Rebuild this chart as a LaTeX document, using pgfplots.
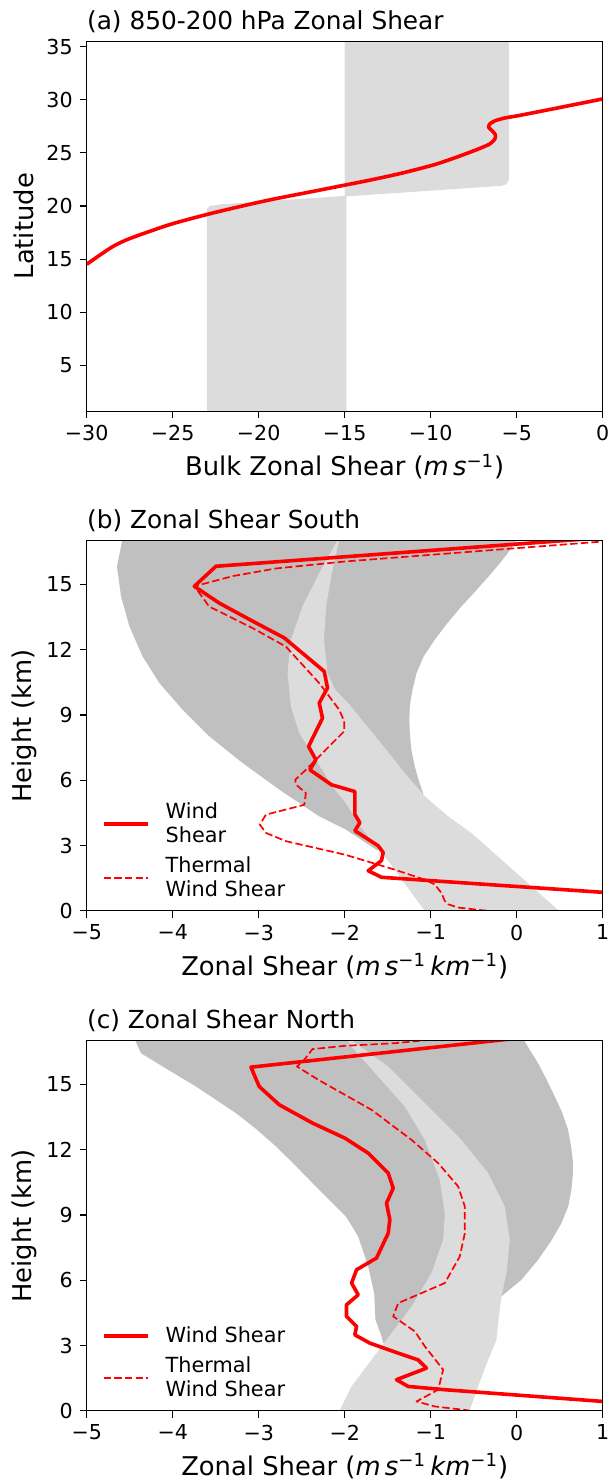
\documentclass[border=0pt]{standalone}
\usepackage{fontspec}
\setmainfont{DejaVu Sans}
\usepackage{pgfplots}
\pgfplotsset{compat=1.18}
\definecolor{lightband}{HTML}{DCDCDC}
\definecolor{darkband}{HTML}{C0C0C0}

\pgfplotsset{
  panel/.style={
    scale only axis, width=258pt, height=185pt,
    anchor=south west,
    axis on top,
    axis line style={line width=0.65pt},
    every tick/.style={black, line width=0.65pt},
    tick align=outside, major tick length=3.5pt,
    xtick pos=bottom, ytick pos=left,
    tick label style={font=\fontsize{10.3}{12}\selectfont},
    label style={font=\fontsize{12.9}{15}\selectfont},
    title style={at={(axis description cs:0,1)}, anchor=base west,
      inner sep=0pt, font=\fontsize{12.4}{14}\selectfont},
    xlabel style={at={(axis description cs:0.5,0)}, anchor=base,
      yshift=-32.25pt, inner sep=0pt},
    ylabel style={at={(axis description cs:-0.1214,0.5)}, anchor=center},
  },
  shearpanel/.style={
    panel,
    xmin=-5, xmax=1, ymin=0, ymax=17,
    xtick={-5,-4,-3,-2,-1,0,1},
    xticklabels={−5,−4,−3,−2,−1,0,1},
    ytick={0,3,6,9,12,15},
    yticklabels={0,3,6,9,12,15},
    xlabel={Zonal Shear (\textit{m\,s}\textsuperscript{−1}\,\textit{km}\textsuperscript{−1})},
    ylabel={Height (km)},
    legend style={at={(axis description cs:0,0)}, anchor=south west,
      xshift=7.5pt, yshift=3.7pt, draw=none, fill=none, inner sep=0pt,
      row sep=1.9pt, column sep=5.8pt,
      font=\fontsize{10.4}{11.65}\selectfont,
      cells={align=left, anchor=west, inner sep=0pt}},
    legend image code/.code={\draw[##1] (0pt,0pt) -- (22.2pt,0pt);},
  },
  windshear/.style={red, line width=1.8pt, line join=round},
  thermal/.style={red, line width=0.85pt, dash pattern=on 3.7pt off 1.6pt, line join=round},
}

\begin{document}
\begin{tikzpicture}
\useasboundingbox (0pt,0pt) rectangle (304.5pt,-740pt);

% (a) bulk shear vs latitude
\begin{axis}[panel, at={(43.35pt,-205.6pt)},
    xmin=-30, xmax=0, ymin=0.7, ymax=35.5,
    xtick={-30,-25,-20,-15,-10,-5,0},
    xticklabels={−30,−25,−20,−15,−10,−5,0},
    ytick={5,10,15,20,25,30,35},
    yticklabels={5,10,15,20,25,30,35},
    title={(a) 850-200 hPa Zonal Shear},
    xlabel={Bulk Zonal Shear (\textit{m\,s}\textsuperscript{−1})},
    ylabel={Latitude}]
\addplot[fill=lightband, draw=none, forget plot] coordinates {
  (-23.02,0) (-23.02,19.70) (-22.84,20.01) (-22.16,20.17) (-14.9,20.96) (-14.9,0)
} -- cycle;
\addplot[fill=lightband, draw=none, forget plot] coordinates {
  (-15.0,36) (-15.0,20.89) (-5.88,21.9) (-5.6,22.05) (-5.45,22.5) (-5.45,36)
} -- cycle;
\addplot[windshear, smooth, tension=0.4] coordinates {
  (-30,14.52) (-29.22,15.40) (-28.43,16.24) (-27.45,16.97) (-25.1,18.29)
  (-22.55,19.39) (-19.61,20.49) (-16.67,21.43) (-13.73,22.37) (-11.76,23.06)
  (-9.80,23.88) (-8.43,24.63) (-7.25,25.35) (-6.57,25.83) (-6.27,26.30)
  (-6.24,26.71) (-6.43,27.08) (-6.63,27.40) (-6.57,27.71) (-6.24,28.03)
  (-5.69,28.28) (-4.90,28.50) (-2.94,29.12) (0,30.07)
};
\end{axis}

% (b) south
\begin{axis}[shearpanel, at={(43.35pt,-455.4pt)},
    title={(b) Zonal Shear South}]
\addplot[fill=darkband, draw=none, forget plot] coordinates {
  (-4.582,17.1) (-4.648,15.83) (-4.601,14.45) (-4.504,13.07) (-4.35,11.69)
  (-4.156,10.47) (-3.885,9.24) (-3.575,8.02) (-3.187,6.79) (-2.761,5.57)
  (-2.296,4.34) (-1.986,3.73) (-1.626,2.79) (-1.25,2.8)
  (-1.088,5.41) (-1.14,6.0) (-1.185,6.63) (-1.225,7.4) (-1.243,8.17)
  (-1.248,8.8) (-1.243,9.39) (-1.215,10.1) (-1.165,10.92) (-1.08,11.7)
  (-0.952,12.46) (-0.81,13.2) (-0.642,13.99) (-0.465,14.75) (-0.294,15.51)
  (-0.17,16.1) (-0.061,16.66) (0.02,17.1)
} -- cycle;
\addplot[fill=lightband, draw=none, forget plot] coordinates {
  (-2.075,17.1) (-2.297,15.51) (-2.49,13.99) (-2.626,12.46) (-2.665,10.92)
  (-2.626,9.39) (-2.529,8.17) (-2.335,6.94) (-2.142,5.71) (-1.987,4.95)
  (-1.824,3.89) (-1.471,2.17) (-1.07,0) (-1.1,-0.2)
  (0.52,-0.2) (0.481,0.04) (0.171,1.13) (-0.177,2.35) (-0.526,3.57)
  (-0.797,4.34) (-1.068,5.26) (-1.301,6.33) (-1.611,7.86) (-1.95,9.5)
  (-2.11,10.16) (-2.2,10.92) (-2.24,12.46) (-2.216,13.99) (-2.15,15.51)
  (-2.06,17.1)
} -- cycle;
\addplot[windshear] coordinates {
  (3.5,0.2) (1.0,0.85) (-1.572,1.54) (-1.727,1.84) (-1.572,2.31) (-1.553,2.68)
  (-1.611,2.99) (-1.882,3.68) (-1.824,4.05) (-1.882,4.43) (-1.882,5.48)
  (-2.153,5.79) (-2.405,6.48) (-2.335,6.94) (-2.42,7.55) (-2.335,8.24)
  (-2.258,8.85) (-2.296,9.55) (-2.2,10.24) (-2.238,11.0) (-2.703,12.54)
  (-3.071,13.31) (-3.459,14.14) (-3.749,14.91) (-3.497,15.83) (1.2,17.2)
};
\addlegendentry{Wind\\Shear}
\addplot[thermal] coordinates {
  (1.2,17.03) (-1.998,16.05) (-2.8,15.73) (-3.3,15.38) (-3.749,14.91)
  (-3.69,14.6) (-3.576,13.98) (-3.071,12.99) (-2.684,12.14) (-2.296,10.46)
  (-2.064,9.24) (-2.005,8.71) (-2.005,8.25) (-2.14,7.72) (-2.335,6.94)
  (-2.451,6.48) (-2.575,6.02) (-2.567,5.8) (-2.451,5.41) (-2.47,4.87)
  (-2.916,4.42) (-2.986,3.96) (-2.916,3.58) (-2.684,3.2) (-1.998,2.58)
  (-1.417,1.89) (-1.068,1.43) (-0.952,1.21) (-0.875,0.82) (-0.836,0.45)
  (-0.797,0.3) (-0.681,0.15) (-0.41,0.03) (-0.2,-0.05)
};
\addlegendentry{Thermal\\Wind Shear}
\end{axis}

% (c) north
\begin{axis}[shearpanel, at={(43.35pt,-705.4pt)},
    title={(c) Zonal Shear North}]
\addplot[fill=darkband, draw=none, forget plot] coordinates {
  (-4.446,17.1) (-4.369,16.43) (-4.117,15.82) (-3.73,14.90) (-3.5,14.3)
  (-3.265,13.68) (-3.03,12.95) (-2.80,12.15) (-2.58,11.3) (-2.374,10.46)
  (-2.17,9.65) (-1.986,8.93) (-1.843,8.01) (-1.727,6.63)
  (-1.657,5.41) (-1.642,4.18) (-1.572,3.42) (-1.553,3.11) (-1.0,3.0)
  (-0.35,4.8) (-0.18,5.25) (0.055,6.02) (0.249,6.94) (0.40,7.8) (0.52,8.62)
  (0.60,9.4) (0.636,10.15) (0.652,10.8) (0.655,11.38) (0.635,12.1)
  (0.597,12.91) (0.53,13.7) (0.442,14.44) (0.35,15.2) (0.249,15.97)
  (0.15,16.6) (0.074,17.1)
} -- cycle;
\addplot[fill=lightband, draw=none, forget plot] coordinates {
  (-1.96,17.1) (-1.94,16.82) (-1.611,15.36) (-1.301,13.98) (-1.068,12.45)
  (-0.894,10.61) (-0.836,9.08) (-0.855,7.86) (-0.991,6.33) (-1.223,4.79)
  (-1.456,3.57) (-1.688,2.34) (-1.921,1.12) (-2.06,0) (-2.08,-0.2)
  (-0.53,-0.2) (-0.545,0.04) (-0.449,1.12) (-0.332,2.34) (-0.235,3.26)
  (-0.216,4.03) (-0.177,5.25) (-0.119,6.33) (-0.08,7.86) (-0.139,9.39)
  (-0.332,10.92) (-0.642,12.45) (-1.03,13.98) (-1.494,15.82) (-1.92,17.02)
  (-1.93,17.1)
} -- cycle;
\addplot[windshear] coordinates {
  (2.5,0.05) (1.004,0.43) (-0.836,0.97) (-1.262,1.12) (-1.398,1.43)
  (-1.049,1.96) (-1.146,2.34) (-1.378,2.65) (-1.707,3.11) (-1.882,3.49)
  (-1.862,3.88) (-1.979,4.34) (-1.979,4.87) (-1.843,5.33) (-1.92,5.87)
  (-1.862,6.48) (-1.63,7.02) (-1.494,8.16) (-1.475,8.78) (-1.514,9.54)
  (-1.436,10.23) (-1.494,10.92) (-1.727,11.84) (-1.998,12.53) (-2.374,13.22)
  (-2.76,14.06) (-2.994,14.90) (-3.09,15.79) (0.2,17.2)
};
\addlegendentry{Wind Shear}
\addplot[thermal] coordinates {
  (-1.0,17.05) (-1.417,16.89) (-1.998,16.77) (-2.374,16.62) (-2.47,16.13)
  (-2.555,15.82) (-2.307,15.21) (-1.998,14.52) (-1.688,13.83) (-1.223,12.45)
  (-0.913,11.38) (-0.681,10.31) (-0.603,9.39) (-0.603,8.16) (-0.662,7.09)
  (-0.836,5.87) (-1.378,4.95) (-1.436,4.34) (-1.184,3.65) (-1.068,2.96)
  (-0.855,1.89) (-0.913,0.97) (-1.165,0.43) (-0.952,0.20) (-0.603,0.04)
  (-0.45,-0.05)
};
\addlegendentry{Thermal\\Wind Shear}
\end{axis}
\end{tikzpicture}
\end{document}
